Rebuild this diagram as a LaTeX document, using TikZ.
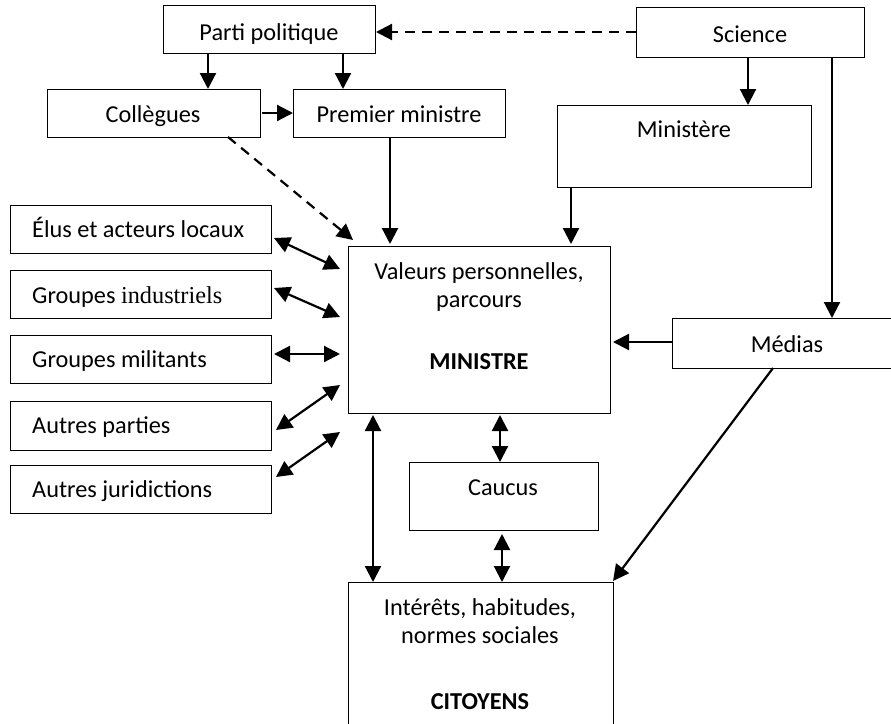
\documentclass[tikz,border=0pt]{standalone}
\usepackage{fontspec}
\setmainfont{Carlito}
\newfontfamily\timesfont{Liberation Serif}
\usetikzlibrary{arrows.meta}
\begin{document}
\begin{tikzpicture}[x=1pt,y=-1pt,
  box/.style={draw,line width=1pt,inner sep=0pt,outer sep=0pt,anchor=north west},
  txt/.style={inner sep=0pt,anchor=base,font=\fontsize{24.3}{29}\selectfont},
  ltxt/.style={txt,anchor=base west},
  arr/.style={line width=2.2pt,-{Triangle[length=16pt,width=16pt]}},
  darr/.style={line width=2.2pt,{Triangle[length=16pt,width=16pt]}-{Triangle[length=16pt,width=16pt]}},
  dsh/.style={arr,dash pattern=on 10pt off 7pt}]
\useasboundingbox (0,0) rectangle (891,723);
\clip (0,0) rectangle (891,723);
% boxes
\node[box,minimum width=212pt,minimum height=48pt] (parti) at (163,5) {};
\node[box,minimum width=213pt,minimum height=48pt] (coll) at (47,89) {};
\node[box,minimum width=212pt,minimum height=48pt] (pm) at (293,89) {};
\node[box,minimum width=228pt,minimum height=50pt] (sci) at (636,7) {};
\node[box,minimum width=254pt,minimum height=82pt] (mine) at (557,105) {};
\node[box,minimum width=261pt,minimum height=48pt] (elus) at (10,205) {};
\node[box,minimum width=261pt,minimum height=48pt] (gind) at (10,270) {};
\node[box,minimum width=261pt,minimum height=48pt] (gmil) at (10,335) {};
\node[box,minimum width=261pt,minimum height=49pt] (apar) at (10,401) {};
\node[box,minimum width=261pt,minimum height=48pt] (ajur) at (10,465) {};
\node[box,minimum width=262pt,minimum height=167pt] (min) at (348,246) {};
\node[box,minimum width=235pt,minimum height=50pt] (med) at (672,318) {};
\node[box,minimum width=189pt,minimum height=68pt] (cau) at (409,462) {};
\node[box,minimum width=265pt,minimum height=170pt] (cit) at (348,582) {};
% texts
\node[txt] (tparti) at (269,40) {Parti politique};
\node[txt] (tcoll) at (153,122) {Collègues};
\node[txt] (tpm) at (399,122) {Premier ministre};
\node[txt] (tsci) at (750,42) {Science};
\node[txt] (tmine) at (684,137) {Ministère};
\node[ltxt] (telus) at (32,237) {Élus et acteurs locaux};
\node[ltxt] (tgind) at (32,303) {Groupes {\timesfont industriels}};
\node[ltxt] (tgmil) at (32,367) {Groupes militants};
\node[ltxt] (tapar) at (32,433) {Autres parties};
\node[ltxt] (tajur) at (32,497) {Autres juridictions};
\node[txt] (tmin1) at (479,279) {Valeurs personnelles,};
\node[txt] (tmin2) at (479,307) {parcours};
\node[txt] (tmin3) at (479,369) {\bfseries MINISTRE};
\node[txt] (tmed) at (787,352) {Médias};
\node[txt] (tcau) at (503,495) {Caucus};
\node[txt] (tcit1) at (480,615) {Intérêts, habitudes,};
\node[txt] (tcit2) at (480,643) {normes sociales};
\node[txt] (tcit3) at (480,709) {\bfseries CITOYENS};
% coordinates
\coordinate (dend) at (353,240);
\coordinate (e1) at (340,269);
\coordinate (e2) at (340,317);
\coordinate (e3) at (340,354);
\coordinate (e4) at (340,385);
\coordinate (e5) at (340,432);
\coordinate (medin) at (613,342);
\coordinate (citin) at (613,581);
% connectors
\draw[arr] (parti.south -| 208,0) -- (coll.north -| 208,0);
\draw[arr] (parti.south -| 343,0) -- (pm.north -| 343,0);
\draw[arr] ([xshift=2pt]coll.east) -- (pm.west);
\draw[dsh] (sci.west |- 0,32) -- ([xshift=1pt]parti.east |- 0,32);
\draw[arr] (sci.south -| 748,0) -- (mine.north -| 748,0);
\draw[arr] (sci.south -| 832,0) -- (med.north -| 832,0);
\draw[dsh] (coll.south -| 228,0) -- (dend);
\draw[arr] (pm.south -| 390,0) -- ([yshift=2pt]min.north -| 390,0);
\draw[arr] (mine.south -| 571,0) -- ([yshift=2pt]min.north -| 571,0);
\draw[arr] (med.west |- 0,342) -- (medin);
\draw[arr] (med.south -| 773,0) -- (citin);
\draw[darr] ([xshift=3pt]elus.east |- 0,238) -- (e1);
\draw[darr] ([xshift=3pt]gind.east |- 0,288) -- (e2);
\draw[darr] ([xshift=3pt]gmil.east |- 0,354) -- (e3);
\draw[darr] ([xshift=5pt]apar.east |- 0,430) -- (e4);
\draw[darr] ([xshift=5pt]ajur.east |- 0,477) -- (e5);
\draw[darr] ([yshift=-2pt]min.south -| 373,0) -- (cit.north -| 373,0);
\draw[darr] ([yshift=-2pt]min.south -| 500,0) -- (cau.north -| 500,0);
\draw[darr] ([yshift=-4pt]cau.south -| 502,0) -- (cit.north -| 502,0);
\end{tikzpicture}
\end{document}
